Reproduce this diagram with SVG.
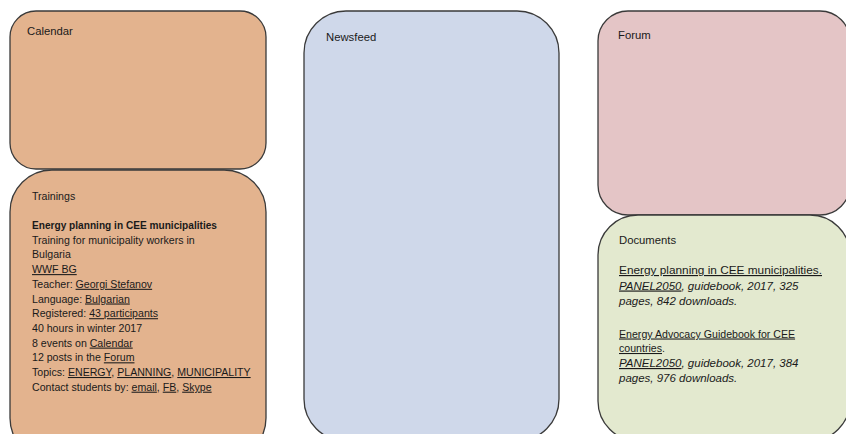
<svg xmlns="http://www.w3.org/2000/svg" width="846" height="434" viewBox="0 0 846 434">
<style>
.box{stroke:#3a3a3a;stroke-width:1.3}
.t{font-family:"Liberation Sans",Arial,sans-serif;font-size:11.3px;fill:#1a1a1a}
.s{font-family:"Liberation Sans",Arial,sans-serif;font-size:10.6px;fill:#1a1a1a}
.d{font-family:"Liberation Sans",Arial,sans-serif;font-size:11.5px;fill:#1a1a1a}
.b{font-weight:bold}
.i{font-style:italic}
.u{text-decoration:underline}
</style>
<rect width="846" height="434" fill="#ffffff"/>
<g id="calendar">
<rect class="box" x="10" y="11" width="256" height="158" rx="26" ry="26" fill="#E3B38E"/>
<text class="t" x="27" y="35">Calendar</text>
</g>
<g id="trainings">
<rect class="box" x="10" y="170" width="256" height="290" rx="42" ry="42" fill="#E3B38E"/>
<text class="s" x="32" y="200">Trainings</text>
<text class="s" x="32" y="229"><tspan class="b" textLength="185" lengthAdjust="spacingAndGlyphs">Energy planning in CEE municipalities</tspan></text>
<text class="s" x="32" y="243.7">Training for municipality workers in</text>
<text class="s" x="32" y="258.4">Bulgaria</text>
<text class="s" x="32" y="273.1"><tspan class="u">WWF BG</tspan></text>
<text class="s" x="32" y="287.8">Teacher: <tspan class="u">Georgi  Stefanov</tspan></text>
<text class="s" x="32" y="302.5">Language: <tspan class="u">Bulgarian</tspan></text>
<text class="s" x="32" y="317.2">Registered: <tspan class="u">43 participants</tspan></text>
<text class="s" x="32" y="331.9">40 hours in winter 2017</text>
<text class="s" x="32" y="346.6">8 events on <tspan class="u">Calendar</tspan></text>
<text class="s" x="32" y="361.3">12 posts in the <tspan class="u">Forum</tspan></text>
<text class="s" x="32" y="376">Topics: <tspan class="u">ENERGY</tspan>, <tspan class="u">PLANNING</tspan>, <tspan class="u">MUNICIPALITY</tspan></text>
<text class="s" x="32" y="390.7">Contact students by: <tspan class="u">email</tspan>, <tspan class="u">FB</tspan>, <tspan class="u">Skype</tspan></text>
</g>
<g id="newsfeed">
<rect class="box" x="304" y="11" width="255" height="430" rx="42" ry="42" fill="#CFD8EA"/>
<text class="t" x="326" y="41">Newsfeed</text>
</g>
<g id="forum">
<rect class="box" x="598" y="11" width="252" height="204" rx="30" ry="30" fill="#E4C5C6"/>
<text class="t" x="618" y="39">Forum</text>
</g>
<g id="documents">
<rect class="box" x="598" y="215" width="252" height="226" rx="40" ry="40" fill="#E3E9CF"/>
<text class="t" x="619" y="244">Documents</text>
<text class="d" x="619" y="274"><tspan class="u" textLength="203" lengthAdjust="spacingAndGlyphs">Energy planning in CEE municipalities.</tspan></text>
<text class="d i" x="619" y="289.5"><tspan class="u">PANEL2050</tspan>, guidebook, 2017, 325</text>
<text class="d i" x="619" y="305">pages, 842 downloads.</text>
<text class="s" x="619" y="337.5"><tspan class="u">Energy Advocacy Guidebook for CEE</tspan></text>
<text class="s" x="619" y="352"><tspan class="u">countries</tspan>.</text>
<text class="d i" x="619" y="367"><tspan class="u">PANEL2050</tspan>, guidebook, 2017, 384</text>
<text class="d i" x="619" y="382">pages, 976 downloads.</text>
</g>
<g id="connectors"></g>
</svg>
